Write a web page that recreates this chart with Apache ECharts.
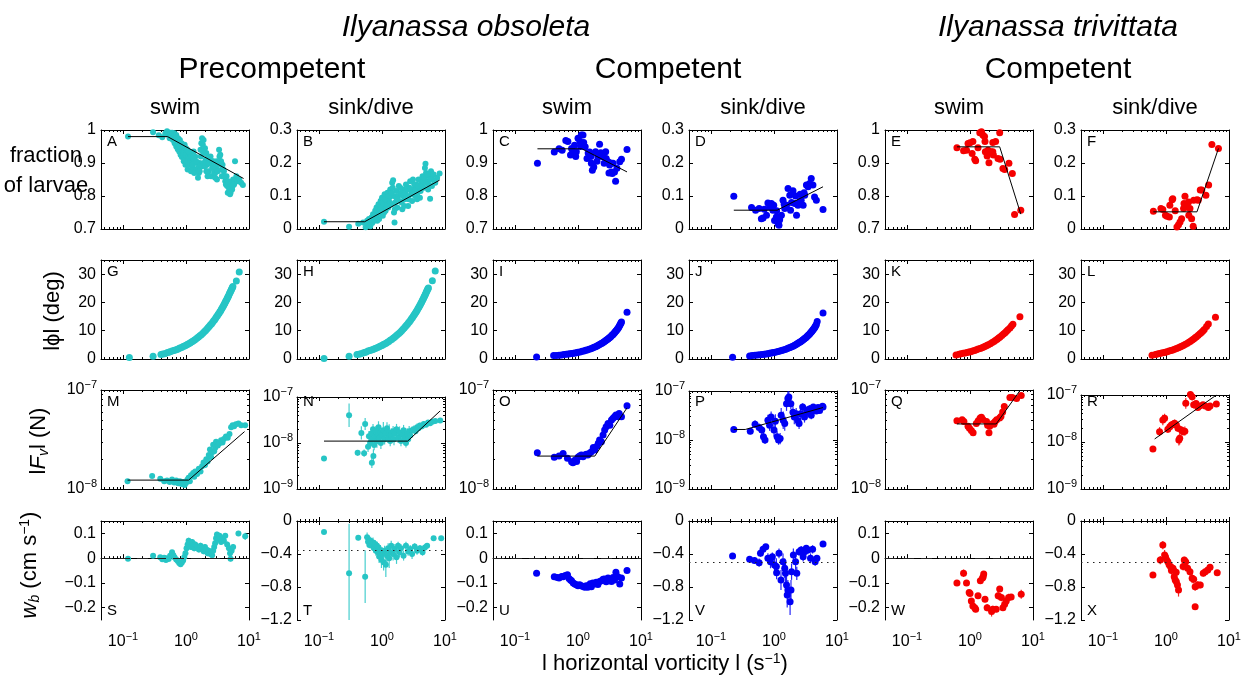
<!DOCTYPE html>
<html><head><meta charset="utf-8">
<script src="https://cdn.jsdelivr.net/npm/echarts@6/dist/echarts.min.js"></script>
<style>html,body{margin:0;padding:0;background:#fff}#c{width:1256px;height:688px}</style>
</head><body><div id="c"></div>
<script>
// ---------------- DATA ----------------
// x = |horizontal vorticity| (s^-1)
const A_pts = [[0.12,0.98],[0.30,0.993],[0.37,0.984],[0.42,0.978],[0.47,0.99],[0.5,0.996],[0.53,0.985],[0.56,0.992],[0.58,0.978],[0.6,0.988],[0.62,0.97],[0.64,0.982],[0.66,0.96],[0.68,0.975],[0.7,0.95],[0.72,0.968],[0.74,0.942],[0.76,0.958],[0.78,0.935],[0.8,0.952],[0.82,0.925],[0.84,0.945],[0.86,0.918],[0.88,0.94],[0.9,0.93],[0.92,0.905],[0.94,0.935],[0.96,0.915],[0.98,0.895],[1.0,0.925],[1.03,0.905],[1.06,0.88],[1.08,0.915],[1.1,0.895],[1.13,0.93],[1.16,0.9],[1.2,0.875],[1.24,0.91],[1.28,0.885],[1.32,0.935],[1.36,0.9],[1.4,0.92],[1.45,0.88],[1.5,0.9],[1.55,0.855],[1.6,0.87],[1.65,0.9],[1.7,0.94],[1.75,0.96],[1.8,0.975],[1.85,0.955],[1.9,0.97],[1.95,0.93],[2.0,0.945],[2.05,0.91],[2.1,0.93],[2.15,0.895],[2.2,0.915],[2.3,0.875],[2.4,0.9],[2.5,0.86],[2.6,0.885],[2.7,0.905],[2.8,0.87],[2.9,0.855],[3.0,0.885],[3.1,0.85],[3.2,0.9],[3.35,0.94],[3.5,0.925],[3.6,0.905],[3.7,0.88],[3.8,0.895],[3.9,0.86],[4.0,0.875],[4.2,0.845],[4.4,0.86],[4.5,0.83],[4.6,0.81],[4.8,0.825],[5.0,0.805],[5.2,0.84],[5.4,0.82],[5.6,0.85],[5.8,0.835],[6.0,0.905],[6.3,0.86],[6.6,0.845],[7.0,0.85],[7.5,0.84],[8.0,0.833],
[0.55,0.975],[0.6,0.992],[0.65,0.99],[0.7,0.985],[0.75,0.975],[0.8,0.97],[0.85,0.96],[0.9,0.95],[0.95,0.955],[1.0,0.945],[1.05,0.94],[1.1,0.935],[1.15,0.915],[1.2,0.92],[1.25,0.895],[1.3,0.915],[1.35,0.87],[1.45,0.905],[1.55,0.885],[1.65,0.875],[1.72,0.92],[1.78,0.89],[1.85,0.935],[1.9,0.9],[2.0,0.89],[2.1,0.875],[2.2,0.86],[2.3,0.9],[2.45,0.92],[2.6,0.905],[2.75,0.89],[2.9,0.87],[3.05,0.905],[3.2,0.875],[3.4,0.92],[3.55,0.895],[3.7,0.86],[3.9,0.88],[4.1,0.86],[4.3,0.835],[4.7,0.845],[4.9,0.82],[5.1,0.81],[5.5,0.83]];
const A_fit = [[0.12,0.98],[0.51,0.98],[8.2,0.853]];

const B_pts = [[0.12,0.022],[0.30,0.007],[0.42,0.016],[0.5,0.02],[0.55,0.005],[0.58,0.025],[0.6,0.012],[0.62,0.03],[0.65,0.008],[0.68,0.035],[0.7,0.018],[0.72,0.045],[0.75,0.025],[0.78,0.055],[0.8,0.035],[0.82,0.065],[0.85,0.045],[0.88,0.075],[0.9,0.03],[0.92,0.06],[0.95,0.085],[0.98,0.05],[1.0,0.095],[1.03,0.04],[1.06,0.07],[1.1,0.105],[1.14,0.055],[1.18,0.085],[1.22,0.11],[1.26,0.065],[1.3,0.095],[1.35,0.12],[1.4,0.075],[1.45,0.14],[1.5,0.148],[1.52,0.1],[1.55,0.05],[1.58,0.02],[1.62,0.08],[1.68,0.115],[1.75,0.065],[1.8,0.1],[1.85,0.13],[1.9,0.085],[2.0,0.11],[2.1,0.06],[2.2,0.12],[2.3,0.09],[2.4,0.135],[2.5,0.1],[2.6,0.07],[2.7,0.125],[2.8,0.145],[2.9,0.105],[3.0,0.085],[3.1,0.15],[3.2,0.12],[3.35,0.1],[3.5,0.135],[3.65,0.11],[3.8,0.15],[3.9,0.125],[4.0,0.095],[4.2,0.14],[4.4,0.16],[4.6,0.125],[4.8,0.185],[4.9,0.198],[5.0,0.17],[5.2,0.145],[5.4,0.12],[5.6,0.16],[5.8,0.092],[6.0,0.175],[6.3,0.15],[6.6,0.165],[7.0,0.14],[7.5,0.155],[8.2,0.168],
[0.56,0.018],[0.64,0.022],[0.7,0.028],[0.76,0.04],[0.84,0.025],[0.9,0.055],[0.97,0.065],[1.04,0.08],[1.08,0.05],[1.12,0.09],[1.2,0.07],[1.28,0.1],[1.33,0.08],[1.42,0.11],[1.48,0.125],[1.6,0.06],[1.72,0.09],[1.95,0.125],[2.05,0.08],[2.15,0.1],[2.25,0.07],[2.35,0.11],[2.55,0.12],[2.65,0.09],[2.85,0.12],[3.05,0.11],[3.25,0.135],[3.45,0.12],[3.6,0.09],[3.75,0.13],[4.1,0.115],[4.3,0.13],[4.5,0.145],[4.7,0.155],[5.1,0.14],[5.3,0.165],[5.5,0.135],[5.9,0.15],[6.2,0.13],[6.8,0.145]];
const B_fit = [[0.12,0.022],[0.53,0.022],[8.2,0.148]];

const C_pts = [[0.227,0.899],[0.42,0.933],[0.5,0.943],[0.56,0.939],[0.64,0.968],[0.69,0.965],[0.76,0.924],[0.79,0.944],[0.81,0.929],[0.88,0.954],[0.94,0.934],[1.0,0.975],[1.07,0.965],[1.13,0.985],[1.2,0.985],[1.23,0.962],[1.3,0.949],[1.39,0.914],[1.53,0.933],[1.63,0.899],[1.69,0.878],[1.78,0.888],[1.9,0.934],[2.07,0.919],[2.2,0.957],[2.3,0.931],[2.5,0.929],[2.6,0.899],[2.75,0.934],[2.8,0.914],[3.0,0.904],[3.17,0.894],[3.4,0.873],[3.5,0.868],[3.6,0.899],[3.8,0.873],[3.95,0.845],[4.15,0.884],[4.6,0.904],[4.9,0.911],[6.0,0.941],[0.92,0.92],[1.1,0.95],[1.45,0.93],[1.6,0.92],[2.0,0.905],[2.4,0.92],[3.3,0.9],[3.1,0.87]];
const C_fit = [[0.227,0.943],[1.15,0.943],[6.0,0.873]];

const D_pts = [[0.23,0.099],[0.44,0.065],[0.51,0.057],[0.58,0.062],[0.63,0.031],[0.67,0.033],[0.76,0.042],[0.8,0.079],[0.85,0.067],[0.91,0.077],[0.96,0.057],[0.99,0.072],[1.02,0.026],[1.09,0.036],[1.16,0.016],[1.2,0.011],[1.23,0.028],[1.31,0.042],[1.39,0.087],[1.48,0.062],[1.58,0.072],[1.67,0.123],[1.78,0.102],[1.83,0.057],[2.0,0.116],[2.14,0.077],[2.28,0.042],[2.4,0.072],[2.55,0.082],[2.7,0.087],[2.9,0.072],[3.07,0.102],[3.27,0.133],[3.47,0.128],[3.68,0.138],[3.9,0.153],[4.15,0.133],[4.4,0.097],[4.7,0.087],[6.0,0.059],[0.7,0.06],[0.9,0.07],[1.1,0.055],[1.45,0.075],[2.2,0.1],[2.6,0.105],[3.0,0.11],[1.9,0.08]];
const D_fit = [[0.23,0.057],[1.12,0.057],[6.0,0.128]];

const E_pts = [[0.62,0.946],[0.79,0.937],[0.88,0.939],[0.93,0.959],[1.0,0.961],[1.11,0.965],[1.08,0.929],[1.19,0.911],[1.23,0.907],[1.34,0.946],[1.43,0.992],[1.52,0.995],[1.6,0.985],[1.7,0.98],[1.73,0.965],[1.75,0.934],[1.87,0.921],[1.93,0.939],[2.0,0.901],[2.16,0.934],[2.3,0.934],[2.35,0.924],[2.3,0.962],[2.55,0.965],[2.78,0.914],[2.96,0.992],[3.0,0.911],[3.33,0.883],[3.55,0.88],[4.15,0.899],[4.7,0.868],[5.1,0.744],[6.4,0.757]];
const E_fit = [[0.62,0.949],[2.96,0.949],[6.4,0.745]];

const F_pts = [[0.63,0.054],[0.83,0.062],[0.89,0.059],[0.98,0.042],[1.04,0.039],[1.13,0.036],[1.15,0.072],[1.25,0.089],[1.28,0.092],[1.4,0.055],[1.49,0.006],[1.58,0.013],[1.67,0.021],[1.77,0.031],[1.9,0.062],[1.93,0.077],[2.0,0.099],[2.15,0.067],[2.28,0.082],[2.4,0.062],[2.3,0.042],[2.55,0.031],[2.7,0.008],[2.75,0.087],[3.1,0.089],[3.25,0.087],[3.5,0.118],[3.7,0.118],[4.3,0.102],[4.75,0.133],[5.35,0.256],[6.8,0.244]];
const F_fit = [[0.63,0.052],[3.1,0.052],[6.8,0.244]];

// |phi| (deg)
const G_pts = [[0.126,0.5],[0.30,1.0],[0.40,1.6],[0.43,1.8],[0.46,1.9],[0.5,2.2],[0.53,2.4],[0.56,2.6],[0.6,2.8],[0.64,3.0],[0.68,3.2],[0.72,3.4],[0.76,3.6],[0.8,3.9],[0.85,4.1],[0.9,4.4],[0.95,4.6],[1.0,4.9],[1.05,5.1],[1.1,5.4],[1.16,5.7],[1.22,6.0],[1.28,6.3],[1.35,6.6],[1.42,7.0],[1.5,7.4],[1.58,7.8],[1.66,8.2],[1.75,8.6],[1.85,9.1],[1.95,9.6],[2.05,10.1],[2.15,10.6],[2.25,11.1],[2.35,11.6],[2.45,12.1],[2.55,12.5],[2.65,13.0],[2.75,13.5],[2.85,13.9],[2.95,14.4],[3.05,14.9],[3.15,15.3],[3.25,15.8],[3.35,16.2],[3.45,16.7],[3.55,17.1],[3.65,17.6],[3.75,18.0],[3.85,18.5],[3.95,18.9],[4.05,19.4],[4.15,19.8],[4.25,20.3],[4.35,20.7],[4.45,21.1],[4.55,21.6],[4.65,22.0],[4.75,22.4],[4.85,22.9],[4.95,23.3],[5.05,23.7],[5.15,24.1],[5.25,24.5],[5.35,24.9],[5.45,25.3],[5.55,25.6],[6.3,27.6],[7.0,30.8]];
const H_pts = [[0.12,0.2],[0.30,1.0],[0.40,1.6],[0.43,1.7],[0.46,1.9],[0.5,2.1],[0.53,2.3],[0.56,2.5],[0.6,2.8],[0.64,3.0],[0.68,3.2],[0.72,3.4],[0.76,3.6],[0.8,3.8],[0.85,4.1],[0.9,4.3],[0.95,4.6],[1.0,4.8],[1.05,5.1],[1.1,5.3],[1.16,5.6],[1.22,5.9],[1.28,6.2],[1.35,6.6],[1.42,6.9],[1.5,7.3],[1.58,7.7],[1.66,8.1],[1.75,8.6],[1.85,9.0],[1.95,9.5],[2.05,10.0],[2.15,10.5],[2.25,11.0],[2.35,11.5],[2.45,11.9],[2.55,12.4],[2.65,12.9],[2.75,13.3],[2.85,13.8],[2.95,14.3],[3.05,14.7],[3.15,15.2],[3.25,15.6],[3.35,16.1],[3.45,16.5],[3.55,17.0],[3.65,17.4],[3.75,17.9],[3.85,18.3],[3.95,18.8],[4.05,19.2],[4.15,19.7],[4.25,20.1],[4.35,20.6],[4.45,21.0],[4.55,21.4],[4.65,21.9],[4.75,22.3],[4.85,22.7],[4.95,23.2],[5.05,23.6],[5.15,24.0],[5.25,24.4],[5.35,24.8],[5.45,25.1],[6.3,27.7],[7.0,31.1]];
const I_pts = [[0.22,0.7],[0.41,1.2],[0.45,1.25],[0.5,1.35],[0.55,1.45],[0.6,1.55],[0.65,1.65],[0.7,1.75],[0.75,1.85],[0.8,1.95],[0.85,2.05],[0.9,2.15],[0.95,2.25],[1.0,2.35],[1.08,2.5],[1.16,2.7],[1.24,2.85],[1.32,3.05],[1.4,3.2],[1.5,3.45],[1.6,3.65],[1.7,3.9],[1.8,4.15],[1.9,4.35],[2.0,4.6],[2.1,4.85],[2.2,5.1],[2.3,5.35],[2.4,5.6],[2.5,5.85],[2.6,6.1],[2.7,6.35],[2.8,6.6],[2.9,6.85],[3.0,7.1],[3.1,7.4],[3.2,7.6],[3.3,7.9],[3.4,8.2],[3.5,8.5],[3.6,8.7],[3.7,9.0],[3.8,9.3],[3.9,9.6],[4.0,9.9],[4.1,10.2],[4.2,10.5],[4.3,10.8],[4.4,11.1],[4.5,11.5],[4.6,11.9],[4.7,12.3],[4.8,12.7],[4.9,13.1],[6.0,16.5]];
const J_pts = [[0.22,0.6],[0.41,1.1],[0.45,1.2],[0.5,1.3],[0.55,1.4],[0.6,1.5],[0.65,1.6],[0.7,1.7],[0.75,1.8],[0.8,1.9],[0.85,2.0],[0.9,2.1],[0.95,2.2],[1.0,2.3],[1.08,2.5],[1.16,2.65],[1.24,2.85],[1.32,3.0],[1.4,3.2],[1.5,3.4],[1.6,3.65],[1.7,3.85],[1.8,4.1],[1.9,4.3],[2.0,4.55],[2.1,4.8],[2.2,5.05],[2.3,5.3],[2.4,5.55],[2.5,5.8],[2.6,6.05],[2.7,6.3],[2.8,6.55],[2.9,6.8],[3.0,7.05],[3.1,7.3],[3.2,7.55],[3.3,7.85],[3.4,8.1],[3.5,8.4],[3.6,8.65],[3.7,8.95],[3.8,9.25],[3.9,9.55],[4.0,9.85],[4.1,10.15],[4.2,10.45],[4.3,10.75],[4.4,11.05],[4.5,11.4],[4.6,11.8],[4.7,12.2],[4.85,13.3],[6.0,16.3]];
const K_pts = [[0.60,1.4],[0.67,1.7],[0.72,1.85],[0.78,2.0],[0.84,2.15],[0.9,2.3],[0.96,2.45],[1.02,2.6],[1.1,2.8],[1.18,3.0],[1.26,3.25],[1.35,3.5],[1.45,3.75],[1.55,4.0],[1.65,4.25],[1.75,4.5],[1.85,4.75],[1.95,5.0],[2.1,5.4],[2.25,5.8],[2.4,6.2],[2.55,6.6],[2.7,7.0],[2.85,7.4],[3.0,7.8],[3.2,8.3],[3.4,8.8],[3.6,9.3],[3.8,9.8],[4.0,10.3],[4.3,11.0],[4.55,11.7],[4.8,12.3],[6.2,14.9]];
const L_pts = [[0.60,1.3],[0.68,1.6],[0.73,1.75],[0.79,1.95],[0.85,2.1],[0.91,2.25],[0.97,2.4],[1.04,2.6],[1.12,2.8],[1.2,3.0],[1.28,3.2],[1.37,3.45],[1.47,3.7],[1.57,4.0],[1.67,4.25],[1.77,4.5],[1.88,4.8],[2.0,5.1],[2.15,5.5],[2.3,5.9],[2.45,6.3],[2.6,6.7],[2.75,7.1],[2.9,7.5],[3.05,7.9],[3.25,8.4],[3.45,8.9],[3.65,9.4],[3.85,9.9],[4.05,10.4],[4.4,11.5],[4.7,12.4],[6.1,14.8]];

// |F_v| (N) : [x, F, relative error]
const M_pts = [[0.118,1.2e-8],[0.29,1.35e-8],[0.39,1.27e-8],[0.45,1.2e-8],[0.5,1.22e-8],[0.55,1.18e-8],[0.6,1.25e-8],[0.65,1.16e-8],[0.7,1.22e-8],[0.75,1.14e-8],[0.8,1.2e-8],[0.85,1.12e-8],[0.9,1.18e-8],[0.95,1.1e-8],[1.0,1.15e-8],[1.05,1.24e-8],[1.1,1.3e-8],[1.15,1.2e-8],[1.2,1.38e-8],[1.3,1.45e-8],[1.35,1.33e-8],[1.4,1.5e-8],[1.5,1.42e-8],[1.6,1.6e-8],[1.7,1.5e-8],[1.8,1.7e-8],[1.9,1.85e-8],[2.0,1.75e-8],[2.1,2.0e-8],[2.2,1.9e-8],[2.3,2.2e-8],[2.4,2.5e-8],[2.5,2.1e-8],[2.6,2.35e-8],[2.7,2.8e-8],[2.8,2.4e-8],[2.9,2.6e-8],[3.0,3.0e-8],[3.2,2.75e-8],[3.4,2.9e-8],[3.6,3.1e-8],[3.8,2.95e-8],[4.0,3.2e-8],[4.3,3.4e-8],[4.6,3.3e-8],[4.9,3.6e-8],[5.2,4.2e-8],[5.5,4.4e-8],[5.8,4.3e-8],[6.2,4.5e-8],[6.8,4.6e-8],[7.5,4.4e-8],[8.7,4.4e-8]];
const M_fit = [[0.118,1.23e-8],[1.1,1.23e-8],[8.5,3.8e-8]];
const N_pts = [[0.12,4.6e-9,0.1],[0.30,4.0e-8,0.8],[0.41,6.1e-9,0.15],[0.47,1.66e-8,0.4],[0.52,6.0e-9,0.2],[0.54,2.6e-8,0.35],[0.6,8.3e-9,0.3],[0.62,1.4e-8,0.3],[0.69,3.7e-9,0.3],[0.73,5.2e-9,0.4],[0.65,1.0e-8,0.3],[0.68,1.6e-8,0.35],[0.7,1.2e-8,0.4],[0.72,2.0e-8,0.3],[0.75,9e-9,0.3],[0.78,1.4e-8,0.4],[0.8,1.8e-8,0.3],[0.83,1.1e-8,0.4],[0.86,1.5e-8,0.3],[0.88,2.2e-8,0.35],[0.9,1.3e-8,0.4],[0.93,1.7e-8,0.3],[0.96,1.0e-8,0.35],[1.0,1.5e-8,0.4],[1.05,1.9e-8,0.5],[1.1,1.2e-8,0.3],[1.15,1.6e-8,0.4],[1.2,2.1e-8,0.35],[1.25,1.3e-8,0.3],[1.3,1.7e-8,0.5],[1.35,1.1e-8,0.3],[1.4,1.5e-8,0.4],[1.5,1.8e-8,0.3],[1.55,1.2e-8,0.35],[1.6,1.6e-8,0.4],[1.7,2.0e-8,0.3],[1.8,1.3e-8,0.3],[1.9,1.7e-8,0.35],[2.0,1.1e-8,0.3],[2.1,1.5e-8,0.3],[2.2,1.9e-8,0.3],[2.3,1.3e-8,0.3],[2.4,1.0e-8,0.25],[2.5,1.6e-8,0.3],[2.6,1.2e-8,0.25],[2.7,1.8e-8,0.3],[2.8,1.45e-8,0.2],[3.0,1.9e-8,0.2],[3.2,2.0e-8,0.2],[3.4,1.8e-8,0.15],[3.6,2.2e-8,0.2],[3.8,2.1e-8,0.15],[4.0,2.4e-8,0.15],[4.3,2.3e-8,0.15],[4.6,2.6e-8,0.15],[5.0,2.5e-8,0.1],[5.4,2.8e-8,0.1],[5.8,2.7e-8,0.1],[6.3,2.9e-8,0.1],[7.0,3.0e-8,0.1],[8.4,3.1e-8,0.05]];
const N_fit = [[0.12,1.1e-8],[2.55,1.1e-8],[8.4,5.0e-8]];
const O_pts = [[0.226,2.33e-8],[0.42,2.09e-8],[0.5,2.15e-8],[0.58,2.29e-8],[0.68,2.04e-8],[0.79,1.89e-8],[0.83,1.84e-8],[0.9,1.96e-8],[0.95,1.9e-8],[1.0,2.09e-8],[1.06,2.15e-8],[1.13,2.2e-8],[1.2,2.12e-8],[1.28,2.2e-8],[1.36,2.25e-8],[1.43,2.2e-8],[1.52,2.3e-8],[1.63,2.38e-8],[1.75,2.63e-8],[1.84,2.48e-8],[2.0,2.7e-8],[2.1,2.89e-8],[2.2,3.12e-8],[2.35,3.0e-8],[2.5,3.51e-8],[2.65,3.94e-8],[2.8,4.26e-8],[3.0,4.6e-8],[3.2,4.4e-8],[3.4,4.98e-8],[3.6,5.17e-8],[3.8,5.37e-8],[4.0,5.58e-8],[4.3,5.37e-8],[4.5,5.8e-8],[4.9,5.37e-8],[6.0,6.95e-8]];
const O_fit = [[0.226,2.15e-8],[1.85,2.15e-8],[6.0,6.6e-8]];
const P_pts = [[0.23,1.64e-8,0.1],[0.42,1.51e-8,0.15],[0.5,2.1e-8,0.2],[0.58,1.8e-8,0.2],[0.64,1.6e-8,0.2],[0.68,1.16e-8,0.25],[0.72,1.0e-8,0.2],[0.8,2.53e-8,0.3],[0.85,2.0e-8,0.3],[0.9,2.95e-8,0.3],[1.0,1.6e-8,0.35],[1.05,2.4e-8,0.4],[1.12,1.16e-8,0.3],[1.18,1.0e-8,0.25],[1.25,1.07e-8,0.3],[1.3,3.2e-8,0.4],[1.4,2.53e-8,0.5],[1.48,2.17e-8,0.4],[1.58,5.5e-8,0.4],[1.66,7.0e-8,0.4],[1.72,7.55e-8,0.35],[1.85,5.5e-8,0.3],[2.0,3.7e-8,0.3],[2.1,2.95e-8,0.4],[2.25,3.45e-8,0.3],[2.4,2.5e-8,0.3],[2.5,2.17e-8,0.3],[2.65,3.45e-8,0.3],[2.85,4.7e-8,0.2],[3.05,2.95e-8,0.3],[3.3,4.0e-8,0.2],[3.45,3.7e-8,0.2],[3.65,4.3e-8,0.2],[3.9,3.2e-8,0.2],[4.2,4.7e-8,0.15],[4.4,4.2e-8,0.15],[4.7,3.9e-8,0.15],[5.0,4.6e-8,0.1],[5.3,4.0e-8,0.1],[5.9,4.9e-8,0.1],[6.0,4.7e-8,0.08]];
const P_fit = [[0.23,1.64e-8],[0.35,1.64e-8],[6.0,4.6e-8]];
const Q_pts = [[0.62,4.9e-8],[0.75,5.0e-8],[0.8,4.8e-8],[0.93,4.3e-8],[0.98,4.1e-8],[1.05,3.9e-8],[1.12,3.7e-8],[1.26,4.6e-8],[1.35,4.9e-8],[1.45,5.2e-8],[1.52,5.3e-8],[1.6,5.05e-8],[1.83,4.8e-8],[1.9,4.4e-8],[2.0,3.7e-8],[2.05,4.3e-8],[2.3,4.6e-8],[2.4,4.5e-8],[2.5,4.8e-8],[2.65,5.0e-8],[2.95,5.2e-8],[3.1,5.4e-8],[3.3,6.0e-8],[3.5,6.8e-8],[4.3,8.4e-8],[4.7,8.4e-8],[5.5,8.2e-8],[6.5,8.8e-8]];
const Q_fit = [[0.62,4.54e-8],[2.6,4.54e-8],[6.3,1.0e-7]];
const R_pts = [[0.62,7.1e-9,0.1],[0.79,1.66e-8,0.25],[0.89,2.94e-8,0.3],[0.95,3.2e-8,0.25],[1.07,1.86e-8,0.2],[1.15,2.1e-8,0.2],[1.22,2.3e-8,0.2],[1.29,2.4e-8,0.2],[1.37,2.5e-8,0.2],[1.46,2.3e-8,0.2],[1.55,1.95e-8,0.2],[1.65,1.2e-8,0.35],[1.6,1.1e-8,0.3],[1.76,1.8e-8,0.2],[1.87,1.66e-8,0.2],[1.99,1.7e-8,0.25],[2.06,6.65e-8,0.3],[2.44,1.03e-7,0.2],[2.6,9.2e-8,0.2],[2.75,6.2e-8,0.2],[3.0,6.6e-8,0.15],[3.2,5.4e-8,0.15],[3.4,5.8e-8,0.15],[3.87,6.2e-8,0.1],[4.2,5.8e-8,0.1],[4.7,5.4e-8,0.1],[5.0,5.8e-8,0.1],[6.3,6.4e-8,0.08]];
const R_fit = [[0.66,1.16e-8],[6.3,1.0e-7]];

// w_b (cm s^-1) : [x, w, error]
const S_pts = [[0.12,-0.003,0.004],[0.30,0.01,0.005],[0.39,0.004,0.005],[0.42,-0.005,0.006],[0.45,0.002,0.006],[0.48,-0.008,0.006],[0.5,0.0,0.006],[0.53,-0.004,0.006],[0.56,0.01,0.008],[0.6,0.024,0.008],[0.63,0.012,0.008],[0.66,0.003,0.008],[0.7,-0.006,0.008],[0.74,-0.012,0.008],[0.78,-0.02,0.008],[0.82,-0.025,0.008],[0.86,-0.018,0.008],[0.9,-0.01,0.01],[0.94,0.005,0.01],[0.98,0.02,0.01],[1.02,0.04,0.012],[1.06,0.055,0.012],[1.1,0.07,0.012],[1.15,0.06,0.012],[1.2,0.045,0.012],[1.25,0.065,0.012],[1.3,0.05,0.012],[1.35,0.04,0.012],[1.4,0.055,0.012],[1.5,0.045,0.012],[1.6,0.035,0.012],[1.7,0.05,0.012],[1.8,0.04,0.012],[1.9,0.028,0.012],[2.0,0.045,0.012],[2.1,0.035,0.012],[2.2,0.02,0.012],[2.3,0.03,0.012],[2.4,0.018,0.012],[2.5,0.025,0.012],[2.6,0.012,0.012],[2.7,0.03,0.012],[2.8,0.045,0.012],[2.9,0.06,0.012],[3.0,0.08,0.012],[3.1,0.095,0.012],[3.2,0.075,0.012],[3.4,0.09,0.012],[3.6,0.065,0.012],[3.8,0.08,0.012],[4.0,0.07,0.012],[4.2,0.09,0.012],[4.5,0.055,0.012],[4.8,0.04,0.012],[5.0,0.02,0.012],[5.1,-0.003,0.01],[5.3,0.03,0.012],[5.6,0.045,0.012],[6.8,0.1,0.01],[8.7,0.088,0.015]];
const T_pts = [[0.12,-0.133,0.02],[0.30,-0.634,0.6],[0.42,-0.202,0.03],[0.54,-0.675,0.32],[0.58,-0.198,0.06],[0.6,-0.25,0.05],[0.63,-0.29,0.04],[0.66,-0.24,0.05],[0.69,-0.3,0.05],[0.72,-0.26,0.06],[0.75,-0.33,0.05],[0.78,-0.28,0.05],[0.8,-0.36,0.06],[0.83,-0.3,0.05],[0.86,-0.38,0.06],[0.88,-0.32,0.05],[0.9,-0.43,0.08],[0.94,-0.35,0.06],[0.98,-0.47,0.1],[1.02,-0.4,0.08],[1.06,-0.5,0.1],[1.1,-0.36,0.06],[1.15,-0.53,0.15],[1.2,-0.42,0.1],[1.25,-0.33,0.06],[1.3,-0.45,0.12],[1.35,-0.38,0.08],[1.4,-0.3,0.06],[1.5,-0.4,0.08],[1.6,-0.34,0.06],[1.7,-0.44,0.08],[1.8,-0.3,0.05],[1.9,-0.38,0.06],[2.0,-0.33,0.05],[2.2,-0.42,0.06],[2.4,-0.3,0.05],[2.6,-0.37,0.05],[2.8,-0.34,0.05],[3.0,-0.4,0.06],[3.3,-0.31,0.04],[3.6,-0.36,0.05],[4.0,-0.33,0.04],[4.4,-0.38,0.04],[4.8,-0.32,0.04],[5.2,-0.3,0.03],[6.6,-0.21,0.02],[8.7,-0.21,0.02]];
const U_pts = [[0.22,-0.061],[0.42,-0.075],[0.47,-0.078],[0.5,-0.08],[0.55,-0.074],[0.58,-0.075],[0.63,-0.07],[0.68,-0.067],[0.72,-0.082],[0.76,-0.088],[0.79,-0.091],[0.84,-0.1],[0.89,-0.105],[0.94,-0.108],[1.0,-0.112],[1.06,-0.108],[1.13,-0.112],[1.2,-0.115],[1.28,-0.118],[1.35,-0.112],[1.43,-0.118],[1.5,-0.11],[1.56,-0.104],[1.63,-0.116],[1.72,-0.1],[1.84,-0.105],[1.95,-0.097],[2.07,-0.107],[2.2,-0.094],[2.35,-0.091],[2.5,-0.085],[2.65,-0.084],[2.8,-0.095],[3.0,-0.08],[3.2,-0.09],[3.4,-0.094],[3.6,-0.078],[3.8,-0.088],[4.0,-0.057],[4.3,-0.075],[4.6,-0.105],[4.9,-0.08],[6.0,-0.05]];
const V_pts = [[0.22,-0.424,0.02],[0.41,-0.465,0.03],[0.49,-0.48,0.04],[0.58,-0.505,0.05],[0.61,-0.392,0.04],[0.67,-0.343,0.04],[0.74,-0.311,0.03],[0.8,-0.452,0.06],[0.88,-0.493,0.08],[0.94,-0.432,0.05],[1.02,-0.533,0.1],[1.09,-0.553,0.1],[1.1,-0.626,0.08],[1.2,-0.392,0.06],[1.29,-0.715,0.12],[1.39,-0.493,0.1],[1.48,-0.574,0.12],[1.52,-0.634,0.14],[1.58,-0.776,0.15],[1.62,-0.897,0.15],[1.66,-0.836,0.12],[1.8,-0.978,0.16],[1.86,-0.836,0.12],[1.9,-0.614,0.1],[2.03,-0.412,0.08],[2.2,-0.493,0.1],[2.3,-0.634,0.08],[2.5,-0.372,0.05],[2.7,-0.352,0.05],[2.9,-0.432,0.06],[3.05,-0.372,0.05],[3.25,-0.331,0.04],[3.45,-0.352,0.05],[3.8,-0.452,0.06],[4.1,-0.343,0.05],[4.5,-0.493,0.05],[4.8,-0.452,0.04],[6.0,-0.279,0.02]];
const W_pts = [[0.62,-0.10,0.008],[0.79,-0.061,0.015],[0.88,-0.10,0.01],[0.97,-0.139,0.01],[1.0,-0.143,0.01],[1.05,-0.173,0.012],[1.11,-0.193,0.012],[1.19,-0.2,0.015],[1.23,-0.207,0.012],[1.34,-0.152,0.01],[1.46,-0.091,0.012],[1.58,-0.08,0.015],[1.65,-0.064,0.012],[1.62,-0.075,0.01],[1.73,-0.166,0.012],[1.87,-0.2,0.015],[2.2,-0.216,0.02],[2.3,-0.207,0.015],[2.6,-0.207,0.012],[2.8,-0.152,0.015],[2.96,-0.125,0.012],[3.15,-0.159,0.015],[3.33,-0.2,0.012],[3.55,-0.186,0.01],[3.76,-0.173,0.012],[4.1,-0.159,0.015],[4.5,-0.157,0.012],[6.5,-0.146,0.018]];
const X_pts = [[0.62,-0.655,0.02],[0.81,-0.473,0.05],[0.89,-0.291,0.05],[0.95,-0.412,0.06],[0.98,-0.432,0.05],[1.02,-0.47,0.05],[1.07,-0.493,0.05],[1.12,-0.53,0.05],[1.18,-0.554,0.06],[1.22,-0.6,0.05],[1.29,-0.574,0.05],[1.35,-0.675,0.06],[1.4,-0.715,0.06],[1.46,-0.735,0.06],[1.52,-0.776,0.08],[1.58,-0.836,0.08],[1.45,-0.62,0.05],[1.87,-0.55,0.05],[1.95,-0.473,0.04],[2.05,-0.493,0.04],[2.2,-0.574,0.05],[2.4,-0.614,0.05],[2.6,-0.695,0.06],[2.75,-0.707,0.05],[2.9,-0.796,0.05],[2.9,-1.038,0.02],[3.2,-0.776,0.05],[3.5,-0.776,0.04],[3.9,-0.634,0.04],[4.2,-0.614,0.03],[4.6,-0.594,0.03],[5.0,-0.562,0.03],[6.5,-0.626,0.03]];
// horizontal reference lines in row 4
const S_ref = 0, T_ref = -0.36, U_ref = 0, V_ref = -0.5, W_ref = 0, X_ref = -0.5;

// tick values
const X_MAJOR = [0.1, 1, 10];
const X_MINOR = [0.05,0.06,0.07,0.08,0.09,0.2,0.3,0.4,0.5,0.6,0.7,0.8,0.9,2,3,4,5,6,7,8,9];
const Y_FRAC1 = [0.7,0.8,0.9,1];
const Y_FRAC2 = [0,0.1,0.2,0.3];
const Y_PHI = [0,10,20,30];
const Y_LOGA = [1e-8,1e-7];
const Y_LOGA_MINOR = [2e-8,3e-8,4e-8,5e-8,6e-8,7e-8,8e-8,9e-8];
const Y_LOGB = [1e-9,1e-8,1e-7];
const Y_LOGB_MINOR = [2e-9,3e-9,4e-9,5e-9,6e-9,7e-9,8e-9,9e-9,2e-8,3e-8,4e-8,5e-8,6e-8,7e-8,8e-8,9e-8];
const Y_WB1 = [-0.2,-0.1,0,0.1];
const Y_WB2 = [-1.2,-0.8,-0.4,0];

// ---------------- LAYOUT / STYLE ----------------
const FONT = '"Liberation Sans", Arial, Helvetica, sans-serif';
const CYAN = '#26c5c5', BLUE = '#0000f5', RED = '#f50000';
const COL_LEFT = [101,297,493,689,885,1081];
const PANEL_W = 148, PANEL_H = 99;
const ROW_TOP = [130,260,390,521];
const X_MIN = 0.0447, X_MAX = 10.002;

const YS = {
  frac1:{type:'value',min:0.7,max:1,ticks:Y_FRAC1},
  frac2:{type:'value',min:0,max:0.3,ticks:Y_FRAC2},
  phi:{type:'value',min:0,max:35,ticks:Y_PHI},
  logA:{type:'log',min:0.9999e-8,max:1.0001e-7,ticks:Y_LOGA,minor:Y_LOGA_MINOR},
  logB:{type:'log',min:0.9999e-9,max:1.0001e-7,ticks:Y_LOGB,minor:Y_LOGB_MINOR},
  wb1:{type:'value',min:-0.25,max:0.15,ticks:Y_WB1},
  wb2:{type:'value',min:-1.2,max:0,ticks:Y_WB2}
};

const PANELS = [
  {id:'A',col:0,row:0,y:'frac1',pts:A_pts,fit:A_fit,color:CYAN,size:6},
  {id:'B',col:1,row:0,y:'frac2',pts:B_pts,fit:B_fit,color:CYAN,size:6},
  {id:'C',col:2,row:0,y:'frac1',pts:C_pts,fit:C_fit,color:BLUE,size:7},
  {id:'D',col:3,row:0,y:'frac2',pts:D_pts,fit:D_fit,color:BLUE,size:7},
  {id:'E',col:4,row:0,y:'frac1',pts:E_pts,fit:E_fit,color:RED,size:7},
  {id:'F',col:5,row:0,y:'frac2',pts:F_pts,fit:F_fit,color:RED,size:7},
  {id:'G',col:0,row:1,y:'phi',pts:G_pts,color:CYAN,size:7},
  {id:'H',col:1,row:1,y:'phi',pts:H_pts,color:CYAN,size:7},
  {id:'I',col:2,row:1,y:'phi',pts:I_pts,color:BLUE,size:7},
  {id:'J',col:3,row:1,y:'phi',pts:J_pts,color:BLUE,size:7},
  {id:'K',col:4,row:1,y:'phi',pts:K_pts,color:RED,size:7},
  {id:'L',col:5,row:1,y:'phi',pts:L_pts,color:RED,size:7},
  {id:'M',col:0,row:2,y:'logA',pts:M_pts,fit:M_fit,color:CYAN,size:6},
  {id:'N',col:1,row:2,y:'logB',pts:N_pts,fit:N_fit,color:CYAN,size:6,top:397,logErr:true},
  {id:'O',col:2,row:2,y:'logA',pts:O_pts,fit:O_fit,color:BLUE,size:7},
  {id:'P',col:3,row:2,y:'logB',pts:P_pts,fit:P_fit,color:BLUE,size:7,top:391,logErr:true},
  {id:'Q',col:4,row:2,y:'logA',pts:Q_pts,fit:Q_fit,color:RED,size:7},
  {id:'R',col:5,row:2,y:'logB',pts:R_pts,fit:R_fit,color:RED,size:7,top:395,logErr:true},
  {id:'S',col:0,row:3,y:'wb1',pts:S_pts,color:CYAN,size:6,err:true,ref:S_ref,dash:true},
  {id:'T',col:1,row:3,y:'wb2',pts:T_pts,color:CYAN,size:6,err:true,ref:T_ref},
  {id:'U',col:2,row:3,y:'wb1',pts:U_pts,color:BLUE,size:7,ref:U_ref,dash:true},
  {id:'V',col:3,row:3,y:'wb2',pts:V_pts,color:BLUE,size:7,err:true,ref:V_ref},
  {id:'W',col:4,row:3,y:'wb1',pts:W_pts,color:RED,size:7,err:true,ref:W_ref,dash:true},
  {id:'X',col:5,row:3,y:'wb2',pts:X_pts,color:RED,size:7,err:true,ref:X_ref}
];

function powLabel(v){
  const e = Math.round(Math.log10(v));
  return '{b|10}{s|' + (e < 0 ? '\u2212' + (-e) : String(e)) + '}';
}
function linLabel(v){
  if (Math.abs(v) < 1e-9) return '0';
  const s = String(Math.round(v*100)/100);
  return s.replace('-', '\u2212');
}
const POW_RICH = {
  b:{fontSize:16, fontFamily:FONT, color:'#000'},
  s:{fontSize:11, fontFamily:FONT, color:'#000', padding:[0,0,10,0]}
};

const grids = [], xAxes = [], yAxes = [], series = [], graphics = [];
const AXLINE = {show:true, lineStyle:{color:'#000', width:1}};
const TICK = (vals, len) => ({show:true, inside:true, length:len, customValues:vals, lineStyle:{color:'#000', width:1}});

PANELS.forEach((p, gi) => {
  const left = COL_LEFT[p.col];
  const top = p.top || ROW_TOP[p.row];
  const height = ROW_TOP[p.row] + PANEL_H - top;
  grids.push({left:left, top:top, width:PANEL_W, height:height, containLabel:false, outerBoundsMode:'none', show:false});

  const xb = {type:'log', logBase:10, min:X_MIN, max:X_MAX, gridIndex:gi, splitLine:{show:false}, minorTick:{show:false}};
  const xi = xAxes.length;
  xAxes.push(Object.assign({}, xb, {position:'bottom', axisLine:AXLINE, axisTick:TICK(X_MAJOR,4),
    axisLabel:{show:p.row===3, customValues:X_MAJOR, formatter:powLabel, rich:POW_RICH, margin:11, color:'#000'}}));
  xAxes.push(Object.assign({}, xb, {position:'bottom', axisLine:{show:false}, axisTick:TICK(X_MINOR,2), axisLabel:{show:false}}));
  xAxes.push(Object.assign({}, xb, {position:'top', axisLine:AXLINE, axisTick:TICK(X_MAJOR,4), axisLabel:{show:false}}));
  xAxes.push(Object.assign({}, xb, {position:'top', axisLine:{show:false}, axisTick:TICK(X_MINOR,2), axisLabel:{show:false}}));

  const ys = YS[p.y];
  const yb = {type:ys.type, min:ys.min, max:ys.max, gridIndex:gi, splitLine:{show:false}, minorTick:{show:false}};
  if (ys.type === 'log') yb.logBase = 10;
  const isLog = ys.type === 'log';
  const yi = yAxes.length;
  yAxes.push(Object.assign({}, yb, {position:'left', axisLine:AXLINE, axisTick:TICK(ys.ticks,4),
    axisLabel:isLog ? {customValues:ys.ticks, formatter:powLabel, rich:POW_RICH, margin:4, color:'#000'}
                    : {customValues:ys.ticks, formatter:linLabel, fontSize:16, fontFamily:FONT, margin:5, color:'#000'}}));
  yAxes.push(Object.assign({}, yb, {position:'right', axisLine:AXLINE, axisTick:TICK(ys.ticks,4), axisLabel:{show:false}}));
  if (ys.minor) {
    yAxes.push(Object.assign({}, yb, {position:'left', axisLine:{show:false}, axisTick:TICK(ys.minor,2), axisLabel:{show:false}}));
    yAxes.push(Object.assign({}, yb, {position:'right', axisLine:{show:false}, axisTick:TICK(ys.minor,2), axisLabel:{show:false}}));
  }

  // error bars
  if (p.err || p.logErr) {
    const ed = p.pts.map(d => p.logErr ? [d[0], d[1]/(1+d[2]), d[1]*(1+d[2])] : [d[0], d[1]-d[2], d[1]+d[2]]);
    const col = p.color;
    series.push({type:'custom', xAxisIndex:xi, yAxisIndex:yi, clip:true, z:1, silent:true, animation:false,
      data:ed, encode:{x:0, y:[1,2]},
      renderItem:function(params, api){
        const a = api.coord([api.value(0), api.value(1)]);
        const b = api.coord([api.value(0), api.value(2)]);
        return {type:'line', shape:{x1:a[0], y1:a[1], x2:b[0], y2:b[1]}, style:{stroke:col, lineWidth:1.2, opacity:0.85}};
      }});
  }
  const sc = {type:'scatter', xAxisIndex:xi, yAxisIndex:yi, data:p.pts.map(d => [d[0], d[1]]),
    symbol:'circle', symbolSize:p.size, itemStyle:{color:p.color, opacity:1}, clip:false, z:2, silent:true, animation:false};
  if (p.ref !== undefined) {
    sc.markLine = {silent:true, symbol:['none','none'], animation:false, label:{show:false}, emphasis:{disabled:true},
      lineStyle:{color:'#222', width:1, type: p.dash ? [11,7] : [1.5,4.5]}, data:[{yAxis:p.ref}]};
  }
  series.push(sc);
  if (p.fit) {
    series.push({type:'line', xAxisIndex:xi, yAxisIndex:yi, data:p.fit, symbol:'none', showSymbol:false,
      lineStyle:{color:'#000', width:1}, z:3, silent:true, animation:false});
  }
  // panel letter
  const ly = p.row === 3 ? ROW_TOP[p.row] + PANEL_H - 9.5 : ROW_TOP[p.row] + 11.5;
  graphics.push({type:'text', x:left+6, y:ly, silent:true, z:10,
    style:{text:p.id, fontSize:15, fontFamily:FONT, fill:'#000', align:'left', verticalAlign:'middle'}});
});

function txt(x, y, text, size, opt) {
  opt = opt || {};
  return {type:'text', x:x, y:y, rotation:opt.rot || 0, silent:true, z:10,
    style:{text:text, fontSize:size, fontFamily:FONT, fontStyle:opt.italic ? 'italic' : 'normal', fill:'#000',
           align:'center', verticalAlign:'middle', rich:opt.rich}};
}
const LRICH = {
  n:{fontSize:22, fontFamily:FONT},
  i:{fontSize:22, fontFamily:FONT, fontStyle:'italic'},
  sub:{fontSize:14, fontFamily:FONT, padding:[10,0,0,0]},
  isub:{fontSize:14, fontFamily:FONT, fontStyle:'italic', padding:[10,0,0,0]},
  sup:{fontSize:14, fontFamily:FONT, padding:[0,0,10,0]}
};

graphics.push(txt(466, 28, 'Ilyanassa obsoleta', 30, {italic:true}));
graphics.push(txt(1058, 28, 'Ilyanassa trivittata', 30, {italic:true}));
graphics.push(txt(272, 70, 'Precompetent', 30));
graphics.push(txt(668, 70, 'Competent', 30));
graphics.push(txt(1058, 70, 'Competent', 30));
const SUBT = ['swim','sink/dive','swim','sink/dive','swim','sink/dive'];
SUBT.forEach((s, i) => graphics.push(txt(COL_LEFT[i] + PANEL_W/2, 108, s, 22)));
graphics.push(txt(46, 156, 'fraction', 22));
graphics.push(txt(46, 186, 'of larvae', 22));
graphics.push(txt(53, 311, 'l\u03d5l (deg)', 22, {rot:Math.PI/2}));
graphics.push(txt(39, 441, '{n|l}{i|F}{isub|v}{n|l (N)}', 22, {rot:Math.PI/2, rich:LRICH}));
graphics.push(txt(30, 565, '{i|w}{isub|b}{n| (cm s}{sup|\u22121}{n|)}', 22, {rot:Math.PI/2, rich:LRICH}));
graphics.push(txt(665, 664, '{n|l horizontal vorticity l (s}{sup|\u22121}{n|)}', 22, {rich:LRICH}));

const chart = echarts.init(document.getElementById('c'), null, {renderer:'canvas'});
chart.setOption({
  animation:false,
  backgroundColor:'#fff',
  grid:grids, xAxis:xAxes, yAxis:yAxes, series:series, graphic:graphics
});
</script></body></html>
